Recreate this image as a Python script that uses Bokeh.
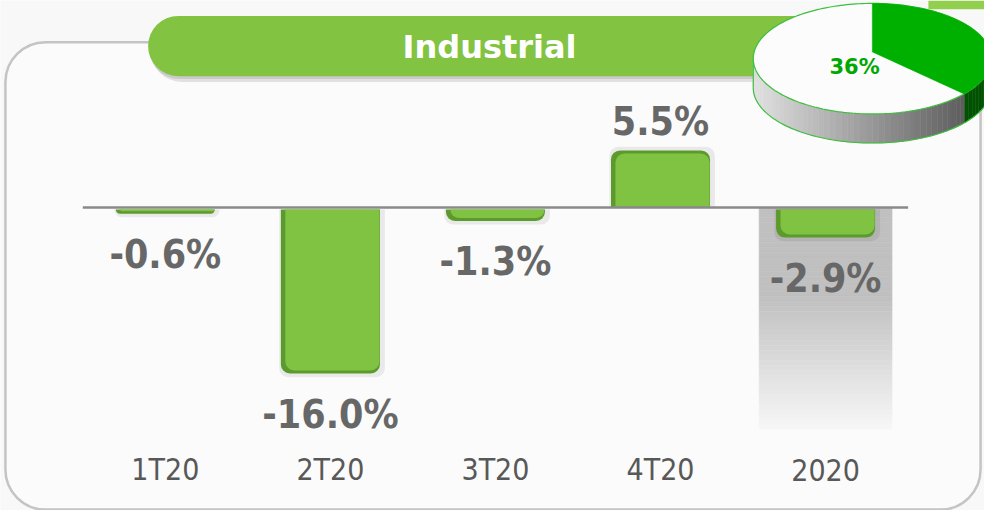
import numpy as np
from bokeh.plotting import figure
from bokeh.models import Range1d, ColumnDataSource
from bokeh.core.properties import value
from bokeh.embed import file_html
from bokeh.resources import INLINE

# ---------------- data ----------------
title = "Industrial"
categories = ["1T20", "2T20", "3T20", "4T20", "2020"]
growth = [-0.6, -16.0, -1.3, 5.5, -2.9]
growth_labels = ["-0.6%", "-16.0%", "-1.3%", "5.5%", "-2.9%"]
share_pct = 36
share_label = "36%"
highlight = "2020"

# ---------------- layout ----------------
W, H = 984, 510
RW, RH = 1000, 526
FS = 0.975  # font scale

p = figure(width=W, height=H, x_range=Range1d(0, RW), y_range=Range1d(RH, 0),
           output_backend="svg", toolbar_location=None, min_border=0)
p.axis.visible = False
p.grid.visible = False
p.outline_line_color = None
p.background_fill_color = "#f8f8f8"
p.border_fill_color = "#f8f8f8"

X0, DX = 167.5, 167.75
Y0, DY = 213.5, 10.7
p.extra_x_ranges = {"idx": Range1d((0 - X0) / DX, (RW - X0) / DX)}
p.extra_y_ranges = {"val": Range1d((Y0 - RH) / DY, Y0 / DY)}

# panel
p.quad(left=5, right=996, top=43, bottom=525, border_radius=40,
       fill_color="#fbfbfb", line_color="#c4c4c4", line_width=2.5)

# highlight band behind 2020
hi = categories.index(highlight)
n = 45
ys = np.linspace(214, 442, n + 1)
cols = []
for k in range(n):
    ym = 0.5 * (ys[k] + ys[k + 1])
    t = 0 if ym < 305 else min(1, (ym - 305) / 137)
    g = int(192 + (248 - 192) * t)
    cols.append("#%02x%02x%02x" % (g, g, g))
p.quad(left=hi - 0.4025, right=hi + 0.4025, top=ys[:-1], bottom=ys[1:],
       fill_color=cols, line_color=cols, line_width=0.6, x_range_name="idx")

idx = list(range(len(categories)))
neg = [(i, v) for i, v in zip(idx, growth) if v < 0]
pos = [(i, v) for i, v in zip(idx, growth) if v >= 0]

def bars(data, rad, sign, start):
    xs = [d[0] for d in data]
    vs = [d[1] for d in data]
    tops = [start for _ in vs]
    # soft shadow
    p.vbar(x=[x + 0.01 for x in xs], top=tops, bottom=[v + sign * 0.35 for v in vs],
           width=0.64, fill_color="#000000", fill_alpha=0.07, line_color=None,
           border_radius=rad, x_range_name="idx", y_range_name="val")
    # dark body
    p.vbar(x=xs, top=tops, bottom=vs, width=0.6, fill_color="#5c9a2e",
           line_color=None, border_radius=rad, x_range_name="idx", y_range_name="val")
    # bright face
    inner = [v - sign * min(0.3, abs(v) * 0.4) for v in vs]
    p.vbar(x=[x + 0.012 for x in xs], top=tops, bottom=inner, width=0.57,
           fill_color="#80c343", line_color=None, border_radius=rad,
           x_range_name="idx", y_range_name="val")

bars(neg, (0, 0, 9, 9), -1, -0.2)
bars(pos, (9, 9, 0, 0), 1, 0)

# baseline
p.segment(x0=-0.5, x1=len(categories) - 0.5, y0=0, y1=0, line_color="#8a8a8a",
          line_width=2.5, x_range_name="idx", y_range_name="val")

# value labels
src = ColumnDataSource(dict(x=idx, y=growth, t=growth_labels,
                            off=[42 * FS if v < 0 else -30 * FS for v in growth]))
p.text(x="x", y="y", text="t", y_offset="off", source=src, text_align="center",
       text_baseline="middle", text_font=value("DejaVu Sans Condensed"),
       text_font_style="bold", text_font_size="%dpx" % round(40 * FS),
       text_color="#676767", x_range_name="idx", y_range_name="val")

# category labels
p.text(x=idx, y=[484] * len(idx), text=categories, text_align="center",
       text_baseline="middle", text_font=value("DejaVu Sans Condensed"),
       text_font_size="%dpx" % round(31 * FS), text_color="#585858", x_range_name="idx")

# header pill
p.quad(left=153, right=880, top=21, bottom=84, border_radius=31, fill_color="#000000",
       fill_alpha=0.10, line_color=None)
p.quad(left=151, right=880, top=19, bottom=81, border_radius=31, fill_color="#000000",
       fill_alpha=0.10, line_color=None)
p.quad(left=150, right=880, top=16, bottom=78, border_radius=31, fill_color="#82c341",
       line_color=None)
p.text(x=[497], y=[48], text=[title], text_align="center", text_baseline="middle",
       text_font=value("DejaVu Sans"), text_font_style="bold",
       text_font_size="%dpx" % round(33 * FS), text_color="#ffffff")

# 3D pie
cx, cy, rx, ry, depth = 886.0, 60.0, 121.0, 57.0, 30.0
ay = 53.0  # apex of the slice (perspective)
end_ang = np.pi / 2 - 2 * np.pi * share_pct / 100.0
end_ang_w = end_ang % (2 * np.pi)
side_x, side_y, side_c = [], [], []
m = 60
edges = np.linspace(np.pi, 2 * np.pi, m + 1)
for k in range(m):
    a, b = edges[k], edges[k + 1]
    t = np.linspace(a, b, 5)
    xt = cx + rx * np.cos(t)
    yt = cy - ry * np.sin(t)
    side_x.append(list(xt) + list(xt[::-1]))
    side_y.append(list(yt) + list((yt + depth)[::-1]))
    c = np.cos(0.5 * (a + b))
    if 0.5 * (a + b) > end_ang_w:
        side_c.append("#005200")
    else:
        f = (c + 1) / 1.8
        g = int(0xe2 - (0xe2 - 0x5c) * min(1, max(0, f)))
        side_c.append("#%02x%02x%02x" % (g, g, g))
p.patches(side_x, side_y, fill_color=side_c, line_color=side_c, line_width=0.5)
tb = np.linspace(np.pi, 2 * np.pi, 100)
p.line(cx + rx * np.cos(tb), cy - ry * np.sin(tb) + depth, line_color="#3cbf3c", line_width=1.2)
p.segment(x0=[cx - rx], x1=[cx - rx], y0=[cy], y1=[cy + depth], line_color="#3cbf3c", line_width=1.2)

tt = np.linspace(0, 2 * np.pi, 240)
p.patch(cx + rx * np.cos(tt), cy - ry * np.sin(tt), fill_color="#fcfcfc",
        line_color="#3cbf3c", line_width=1.2)
tw = np.linspace(np.pi / 2, end_ang, 80)
p.patch([cx] + list(cx + rx * np.cos(tw)), [ay] + list(cy - ry * np.sin(tw)),
        fill_color="#00b000", line_color="#00b000", line_width=0.5)
p.text(x=[868], y=[69], text=[share_label], text_align="center", text_baseline="middle",
       text_font=value("DejaVu Sans"), text_font_style="bold",
       text_font_size="%dpx" % round(22 * FS), text_color="#00a800")

p.quad(left=943, right=1000, top=0, bottom=9, fill_color="#92cf4f", line_color=None)

open("out.html", "w").write(file_html(p, INLINE))
